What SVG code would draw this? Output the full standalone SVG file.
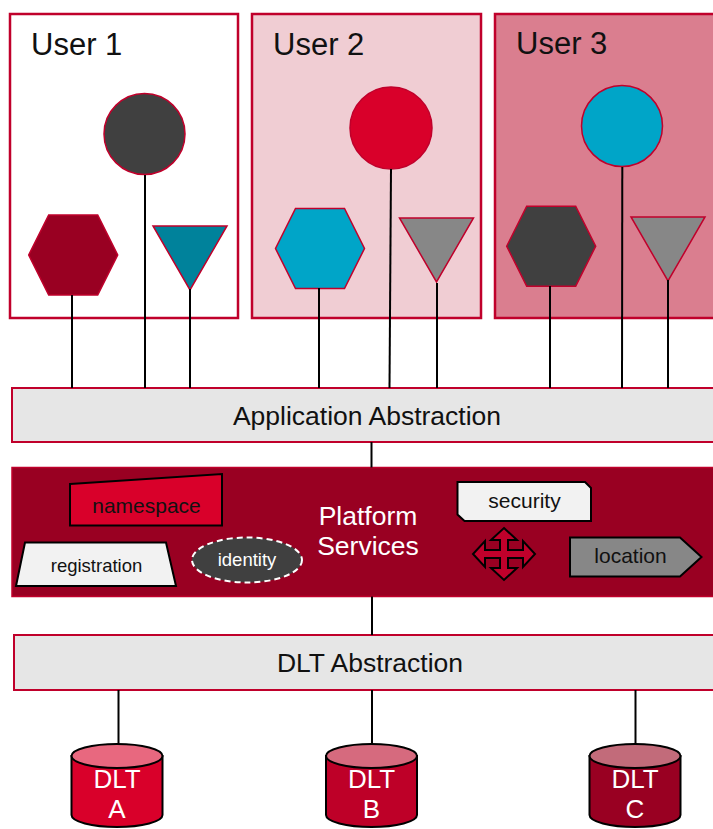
<svg xmlns="http://www.w3.org/2000/svg" width="713" height="829" viewBox="0 0 713 829">
  <style>
    .t { font-family: "Liberation Sans", Arial, sans-serif; }
    .ubox { stroke: #C0002B; stroke-width: 2.5; }
    .shp { stroke: #C0002B; stroke-width: 1.5; }
    .abs { fill: #E6E6E6; stroke: #C0002B; stroke-width: 2; }
    .tag { stroke: #000; stroke-width: 2; stroke-linejoin: miter; }
    .conn line { stroke: #000; stroke-width: 2; }
    .cyl { stroke: #000; stroke-width: 2; }
    .lbl { font-size: 26.5px; fill: #111; text-anchor: middle; }
    .user { font-size: 31px; fill: #111; }
    .small { font-size: 21px; fill: #111; text-anchor: middle; }
    .dlt { font-size: 26px; fill: #fff; text-anchor: middle; }
  </style>
  <defs>
    <polygon id="hex" points="-24.5,-40 24.5,-40 44.5,0 24.5,40 -24.5,40 -44.5,0"/>
    <polygon id="tri" points="-37,0 37,0 0,64"/>
  </defs>

  <rect width="713" height="829" fill="#fff"/>

  <!-- user domains -->
  <g id="user1">
    <rect class="ubox" x="10" y="14" width="228" height="304" fill="#fff"/>
    <text class="t user" x="31" y="55">User 1</text>
    <circle class="shp" cx="144.5" cy="134" r="40.5" fill="#404040"/>
    <use href="#hex" x="73.2" y="255" class="shp" fill="#990022"/>
    <use href="#tri" x="190" y="226" class="shp" fill="#00829B"/>
  </g>
  <g id="user2">
    <rect class="ubox" x="252" y="14" width="229" height="304" fill="#F0CDD3"/>
    <text class="t user" x="273" y="55">User 2</text>
    <circle class="shp" cx="391" cy="128" r="41" fill="#D9002A"/>
    <use href="#hex" x="320" y="248.5" class="shp" fill="#00A5C8"/>
    <use href="#tri" x="436.5" y="218" class="shp" fill="#878787"/>
  </g>
  <g id="user3">
    <rect class="ubox" x="495" y="14" width="230" height="304" fill="#DA7E8F"/>
    <text class="t user" x="516" y="54">User 3</text>
    <circle class="shp" cx="622" cy="126" r="40.5" fill="#00A5C8"/>
    <use href="#hex" x="551.2" y="246.2" class="shp" fill="#404040"/>
    <use href="#tri" x="668" y="217" class="shp" fill="#878787"/>
  </g>

  <!-- abstraction layers -->
  <g id="app-abstraction">
    <rect class="abs" x="12" y="388" width="710" height="54"/>
    <text class="t lbl" x="367" y="425">Application Abstraction</text>
  </g>

  <g id="platform-services">
    <rect x="12" y="467.5" width="710" height="129" fill="#990022" stroke="#C0002B" stroke-width="1.5"/>
    <text class="t lbl" x="368" y="525" style="fill:#fff">Platform</text>
    <text class="t lbl" x="368" y="555" style="fill:#fff">Services</text>

    <g id="namespace">
      <polygon class="tag" points="70,484 222,474 222,525.5 70,525.5" fill="#D9002A"/>
      <text class="t small" x="146.5" y="513">namespace</text>
    </g>
    <g id="registration">
      <polygon class="tag" points="25,542.5 166,542.5 176,586 16,586" fill="#F2F2F2"/>
      <text class="t small" x="96.5" y="572" style="font-size:18.5px">registration</text>
    </g>
    <g id="identity">
      <ellipse cx="247" cy="560" rx="55" ry="22.5" fill="#404040" stroke="#fff" stroke-width="2" stroke-dasharray="6 4"/>
      <text class="t small" x="247" y="566" style="font-size:18.5px;fill:#fff">identity</text>
    </g>
    <g id="security">
      <polygon class="tag" points="457.5,482 585,482 591,488 591,521 464.5,521 457.5,514.5" fill="#F2F2F2"/>
      <text class="t small" x="524.5" y="508">security</text>
    </g>
    <g id="move">
      <polygon class="tag" transform="translate(504 554)" fill="#C0002B" points="0,-26 13,-14 4,-14 4,-4 19,-4 19,-13 31,0 19,13 19,4 4,4 4,14 13,14 0,26 -13,14 -4,14 -4,4 -19,4 -19,13 -31,0 -19,-13 -19,-4 -4,-4 -4,-14 -13,-14"/>
    </g>
    <g id="location">
      <polygon class="tag" points="570,537.5 680,537.5 701.5,557 680,576.5 570,576.5" fill="#878787"/>
      <text class="t small" x="630.5" y="562.5">location</text>
    </g>
  </g>

  <g id="dlt-abstraction">
    <rect class="abs" x="14" y="635" width="710" height="55"/>
    <text class="t lbl" x="370" y="672">DLT Abstraction</text>
  </g>

  <!-- ledgers: body with rounded base, lid ellipse on top -->
  <g id="dlt-a">
    <path class="cyl" d="M71.5,756 V815 A45.5,12 0 0 0 162.5,815 V756 Z" fill="#D9002A"/>
    <ellipse class="cyl" cx="117" cy="756" rx="45.5" ry="12" fill="#E8687F"/>
    <text class="t dlt" x="117" y="788">DLT</text>
    <text class="t dlt" x="117" y="818">A</text>
  </g>
  <g id="dlt-b">
    <path class="cyl" d="M326,756 V815 A45.5,12 0 0 0 417,815 V756 Z" fill="#BE0028"/>
    <ellipse class="cyl" cx="371.5" cy="756" rx="45.5" ry="12" fill="#D66A7E"/>
    <text class="t dlt" x="371.5" y="788">DLT</text>
    <text class="t dlt" x="371.5" y="818">B</text>
  </g>
  <g id="dlt-c">
    <path class="cyl" d="M589.5,756 V815 A45.5,12 0 0 0 680.5,815 V756 Z" fill="#990022"/>
    <ellipse class="cyl" cx="635" cy="756" rx="45.5" ry="12" fill="#C26B7A"/>
    <text class="t dlt" x="635" y="788">DLT</text>
    <text class="t dlt" x="635" y="818">C</text>
  </g>

  <!-- connectors -->
  <g id="connectors" class="conn">
    <line x1="72" y1="295" x2="72" y2="388"/>
    <line x1="145" y1="175" x2="145" y2="388"/>
    <line x1="190" y1="289" x2="190" y2="388"/>
    <line x1="319" y1="288" x2="319" y2="388"/>
    <line x1="391" y1="169" x2="389.5" y2="388"/>
    <line x1="437" y1="283" x2="437" y2="388"/>
    <line x1="550" y1="286" x2="550" y2="388"/>
    <line x1="622.3" y1="167" x2="622" y2="388"/>
    <line x1="668" y1="280" x2="668" y2="388"/>
    <line x1="371.5" y1="442" x2="371.5" y2="467.5"/>
    <line x1="372" y1="596.5" x2="372" y2="635"/>
    <line x1="118.5" y1="690" x2="118.5" y2="744"/>
    <line x1="372" y1="690" x2="372" y2="744"/>
    <line x1="635.5" y1="690" x2="635.5" y2="744"/>
  </g>
</svg>
